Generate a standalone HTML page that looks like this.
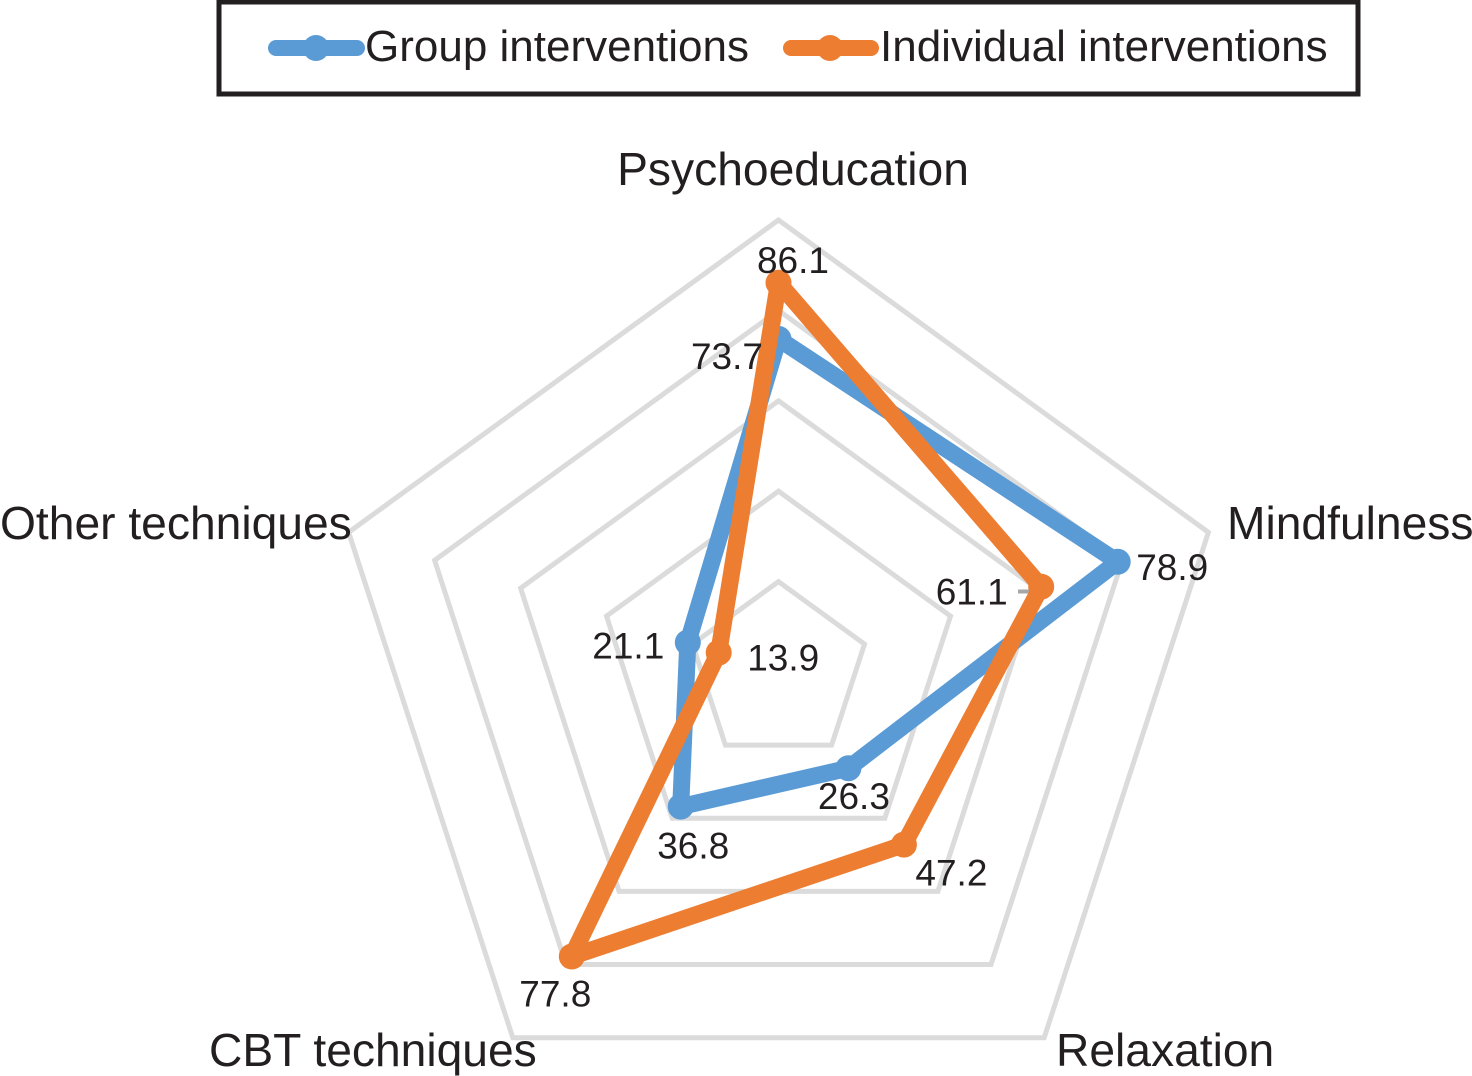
<!DOCTYPE html>
<html lang="en">
<head>
<meta charset="utf-8">
<title>Radar chart of group and individual interventions</title>
<style>
html,body{margin:0;padding:0;background:#fff;width:1472px;height:1076px;overflow:hidden}
svg{display:block}
text{font-family:"Liberation Sans",Arial,sans-serif;fill:#231f20}
.cat{font-size:46.2px}
.leg{font-size:44px}
.val{font-size:37px}
</style>
</head>
<body>
<svg id="chart" xmlns="http://www.w3.org/2000/svg" width="1472" height="1076" viewBox="0 0 1472 1076">
  <g id="grid"></g>
  <path d="M1018 591.5H1034q5 0 8-3" fill="none" stroke="#a6a6a6" stroke-width="4"/>
  <g id="series"></g>
  <g id="values"></g>
  <g id="cats"></g>
  <g>
    <rect x="219" y="2" width="1139" height="92" fill="none" stroke="#231f20" stroke-width="5"/>
    <g>
      <line x1="276" y1="48" x2="357" y2="48" stroke="#5b9bd5" stroke-width="16" stroke-linecap="round"/>
      <circle cx="316" cy="48" r="13" fill="#5b9bd5"/>
      <text class="leg" x="365" y="61">Group interventions</text>
    </g>
    <g>
      <line x1="791" y1="48" x2="871" y2="48" stroke="#ed7d31" stroke-width="16" stroke-linecap="round"/>
      <circle cx="830" cy="48" r="13" fill="#ed7d31"/>
      <text class="leg" x="880" y="61">Individual interventions</text>
    </g>
  </g>
</svg>
<script>
const categories = ["Psychoeducation", "Mindfulness", "Relaxation", "CBT techniques", "Other techniques"];
const groupValues = [73.7, 78.9, 26.3, 36.8, 21.1];
const individualValues = [86.1, 61.1, 47.2, 77.8, 13.9];
const gridTicks = [20, 40, 60, 80, 100];

const NS = "http://www.w3.org/2000/svg";
const CX = 778.5, CY = 672, RADIUS = 452, AXIS_MAX = 100;
const groupLabelOffsets = [[-51.5, 30], [54.5, 18], [5.5, 41], [12.5, 52], [-59.5, 16]];
const individualLabelOffsets = [[14.5, -10], [-69.5, 18], [47.5, 41], [-16.5, 50], [64.5, 18]];
const catPlacement = [
  {x: 793, y: 185, anchor: "middle"},
  {x: 1227, y: 539, anchor: "start"},
  {x: 1056, y: 1066, anchor: "start"},
  {x: 209, y: 1066, anchor: "start"},
  {x: 0, y: 539, anchor: "start"}
];

function angle(i) { return -Math.PI / 2 + i * 2 * Math.PI / categories.length; }
function rScale(v) { return v / AXIS_MAX * RADIUS; }
function xAt(i, v) { return CX + rScale(v) * Math.cos(angle(i)); }
function yAt(i, v) { return CY + rScale(v) * Math.sin(angle(i)); }
function mk(tag) { return document.createElementNS(NS, tag); }

const gridG = document.getElementById("grid");
gridTicks.forEach(function (t) {
  const p = mk("polygon");
  p.setAttribute("points", categories.map(function (c, i) { return xAt(i, t).toFixed(1) + "," + yAt(i, t).toFixed(1); }).join(" "));
  p.setAttribute("fill", "none");
  p.setAttribute("stroke", "#dbdbdb");
  p.setAttribute("stroke-width", "5");
  
  
  gridG.appendChild(p);
});

function drawSeries(values, color, key) {
  const g = mk("g");
  
  
  const poly = mk("polygon");
  poly.setAttribute("points", values.map(function (v, i) { return xAt(i, v).toFixed(1) + "," + yAt(i, v).toFixed(1); }).join(" "));
  poly.setAttribute("fill", "none");
  poly.setAttribute("stroke", color);
  poly.setAttribute("stroke-width", "17");
  poly.setAttribute("stroke-linejoin", "round");
  
  
  g.appendChild(poly);
  values.forEach(function (v, i) {
    const c = mk("circle");
    c.setAttribute("cx", xAt(i, v).toFixed(1));
    c.setAttribute("cy", yAt(i, v).toFixed(1));
    c.setAttribute("r", "13");
    c.setAttribute("fill", color);
    
    
    g.appendChild(c);
  });
  document.getElementById("series").appendChild(g);
}
drawSeries(groupValues, "#5b9bd5", "group");
drawSeries(individualValues, "#ed7d31", "individual");

function drawValues(values, offsets, key) {
  values.forEach(function (v, i) {
    const t = mk("text");
    t.setAttribute("class", "val");
    t.setAttribute("text-anchor", "middle");
    t.setAttribute("x", (xAt(i, v) + offsets[i][0]).toFixed(1));
    t.setAttribute("y", (yAt(i, v) + offsets[i][1]).toFixed(1));
    
    
    t.textContent = v.toFixed(1);
    document.getElementById("values").appendChild(t);
  });
}
drawValues(groupValues, groupLabelOffsets, "group");
drawValues(individualValues, individualLabelOffsets, "individual");

categories.forEach(function (c, i) {
  const t = mk("text");
  t.setAttribute("class", "cat");
  t.setAttribute("x", catPlacement[i].x);
  t.setAttribute("y", catPlacement[i].y);
  t.setAttribute("text-anchor", catPlacement[i].anchor);
  
  
  t.textContent = c;
  document.getElementById("cats").appendChild(t);
});
</script>
</body>
</html>
